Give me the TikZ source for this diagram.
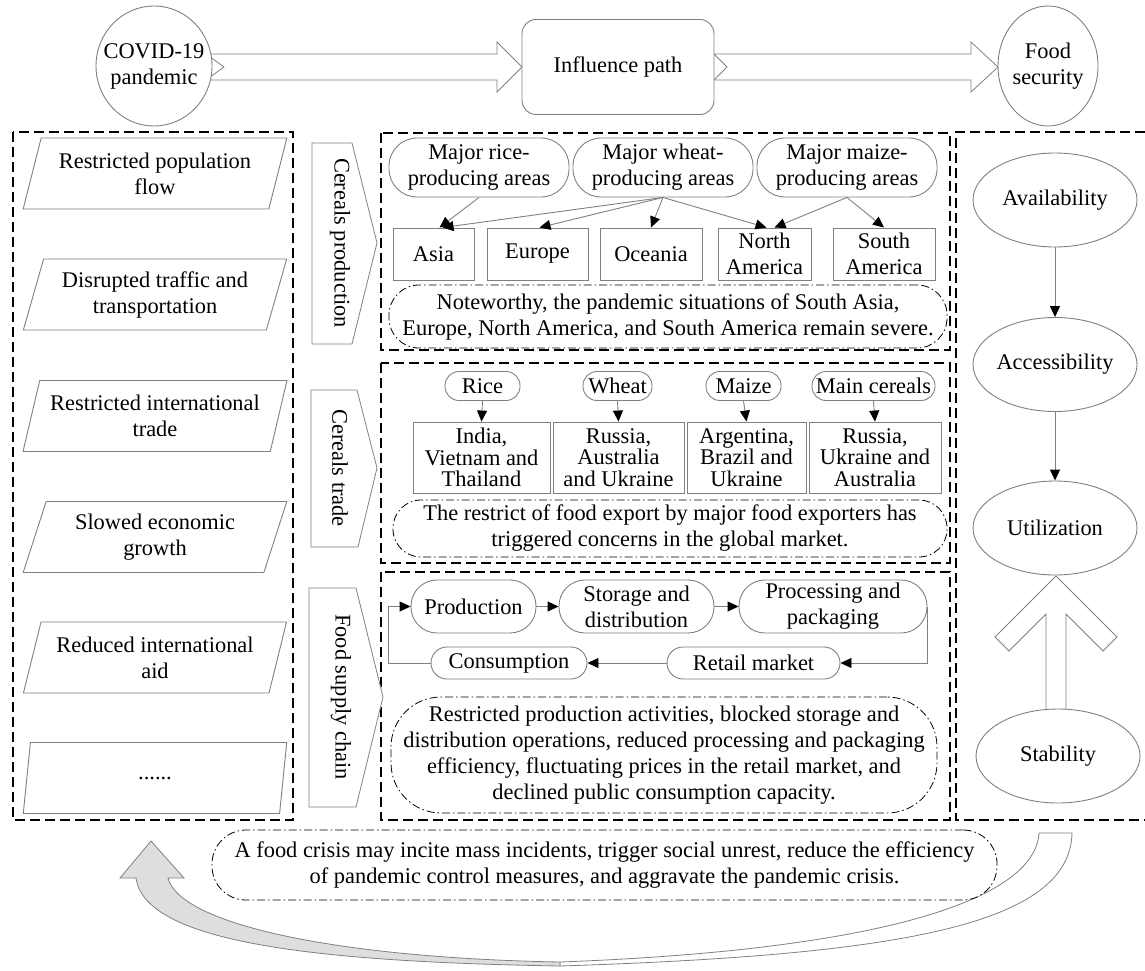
\documentclass[tikz,border=0pt]{standalone}
\usepackage{fontspec}
\setmainfont{Liberation Serif}
\usetikzlibrary{shapes.geometric,arrows.meta,calc}
\begin{document}
\begin{tikzpicture}[x=1pt,y=-1pt,
  every node/.style={font=\fontsize{22.4}{26}\selectfont, inner sep=0pt, align=center},
  gline/.style={draw=black!50, line width=0.9pt},
  gbox/.style={gline, fill=white},
  ell/.style={gbox, ellipse},
  stad/.style={gbox, rectangle, rounded corners=#1},
  stad/.default=26pt,
  rbox/.style={gbox, rectangle},
  para/.style={gbox, trapezium, trapezium left angle=70, trapezium right angle=110, trapezium stretches=true, minimum width=264pt, minimum height=71pt},
  dbox/.style={draw=black, line width=1.5pt, dash pattern=on 10pt off 5pt},
  note/.style={draw=black, line width=0.8pt, dash pattern=on 8pt off 3pt on 1.5pt off 3pt, rounded corners=#1, fill=white},
  note/.default=30pt,
  arr/.style={gline, -{Triangle[length=11pt,width=10pt,color=black]}},
  blockarrow/.style={draw=black!50, line width=0.8pt, fill=white, line join=miter}
]
\useasboundingbox (0,0) rectangle (1145,971);

% ---------- dashed frames ----------
\draw[dbox] (13,132) rectangle (293,820);
\draw[dbox] (381,133) rectangle (950,350);
\draw[dbox] (381,363) rectangle (950,563);
\draw[dbox] (381,572) rectangle (950,820);
\draw[dbox] (1160,132) -- (956,132) -- (956,820) -- (1160,820);

% ---------- top row ----------
\draw[blockarrow] (206,54) -- (497,54) -- (497,42) -- (522,67) -- (497,92) -- (497,80) -- (206,80) -- (224,67) -- cycle;
\draw[blockarrow] (714,54) -- (971,54) -- (971,42) -- (998,67) -- (971,92) -- (971,80) -- (714,80) -- (727,67) -- cycle;
\node[ell, minimum width=116pt, minimum height=120pt] (covid) at (154,66) {};
\node (covidt) at (covid.center) {COVID-19\\pandemic};
\node[gbox, rounded corners=14pt, minimum width=192pt, minimum height=95pt] (infl) at (618,67) {Influence path};
\node[ell, minimum width=100pt, minimum height=120pt] (food) at (1048,66) {};
\node (foodt) at (food.center) {Food\\security};

% ---------- left column ----------
\node[para] (f1) at (155,173.5) {Restricted population\\flow};
\node[para] (f2) at (155,294.5) {Disrupted traffic and\\transportation};
\node[para] (f3) at (155,416) {Restricted international\\trade};
\node[para] (f4) at (155,537) {Slowed economic\\growth};
\node[para] (f5) at (155,657.5) {Reduced international\\aid};
\node[para] (f6) at (155,778) {......};

% ---------- section arrows ----------
\draw[blockarrow] (312,143) -- (352,143) -- (377,243) -- (352,344) -- (312,344) -- cycle;
\node[rotate=-90] (cp) at (340,243) {Cereals production};
\draw[blockarrow] (311,390) -- (357,390) -- (377,468) -- (358,547) -- (311,547) -- cycle;
\node[rotate=-90] (ct) at (340,468) {Cereals trade};
\draw[blockarrow] (309,588) -- (356,588) -- (383,697) -- (356,807) -- (309,807) -- cycle;
\node[rotate=-90] (fsc) at (341,697) {Food supply chain};

% ---------- cereals production ----------
\node[stad=28pt, minimum width=180pt, minimum height=59pt] (rice) at (479,167.5) {Major rice-\\producing areas};
\node[stad=28pt, minimum width=180pt, minimum height=59pt] (wheat) at (663,167.5) {Major wheat-\\producing areas};
\node[stad=28pt, minimum width=180pt, minimum height=59pt] (maize) at (847,167.5) {Major maize-\\producing areas};
\node[rbox, minimum width=81pt, minimum height=52pt] (asia) at (433.5,254) {Asia};
\node[rbox, minimum width=101pt, minimum height=52pt] (europe) at (537.5,254) {Europe};
\node[rbox, minimum width=102pt, minimum height=52pt] (oceania) at (651,254) {Oceania};
\node[rbox, minimum width=93pt, minimum height=52pt] (na) at (764.5,254) {North\\America};
\node[rbox, minimum width=102pt, minimum height=52pt] (sa) at (884,254) {South\\America};
\node[note=30pt, minimum width=558pt, minimum height=63pt] (n1) at (668,316.5) {Noteworthy, the pandemic situations of South Asia,\\Europe, North America, and South America remain severe.};
\draw[arr] (rice.south) -- ($(asia.north)+(6,0)$);
\draw[arr] (wheat.south) -- ($(asia.north)+(9,0)$);
\draw[arr] (wheat.south) -- ($(europe.north)+(2,0)$);
\draw[arr] (wheat.south) -- (oceania.north);
\draw[arr] (wheat.south) -- ($(na.north)+(2,0)$);
\draw[arr] (maize.south) -- ($(na.north)+(10,0)$);
\draw[arr] (maize.south) -- (sa.north);

% ---------- cereals trade ----------
\node[stad=14pt, minimum width=75pt, minimum height=29pt] (trice) at (482.5,386) {Rice};
\node[stad=14pt, minimum width=69pt, minimum height=29pt] (twheat) at (617.5,386) {Wheat};
\node[stad=14pt, minimum width=75pt, minimum height=29pt] (tmaize) at (743.5,386) {Maize};
\node[stad=14pt, minimum width=123pt, minimum height=29pt] (tmain) at (873.5,386) {Main cereals};
\begin{scope}[every node/.append style={font=\fontsize{22.4}{21.5}\selectfont}]
\node[rbox, minimum width=137pt, minimum height=71pt] (india) at (481.5,457.5) {India,\\Vietnam and\\Thailand};
\node[rbox, minimum width=131pt, minimum height=71pt] (rus1) at (618.5,457.5) {Russia,\\Australia\\and Ukraine};
\node[rbox, minimum width=119pt, minimum height=71pt] (arg) at (746.5,457.5) {Argentina,\\Brazil and\\Ukraine};
\node[rbox, minimum width=132pt, minimum height=71pt] (rus2) at (875,457.5) {Russia,\\Ukraine and\\Australia};
\end{scope}
\node[note=28pt, minimum width=554pt, minimum height=57pt] (n2) at (670,528.5) {The restrict of food export by major food exporters has\\triggered concerns in the global market.};
\draw[arr] (trice.south) -- (india.north);
\draw[arr] (twheat.south) -- (rus1.north);
\draw[arr] (tmaize.south) -- (arg.north);
\draw[arr] (tmain.south) -- (rus2.north);

% ---------- food supply chain ----------
\node[stad=26pt, minimum width=125pt, minimum height=53pt] (prod) at (473.5,606.5) {Production};
\node[stad=26pt, minimum width=155pt, minimum height=53pt] (stor) at (636.5,606.5) {Storage and\\distribution};
\node[stad=26pt, minimum width=188pt, minimum height=53pt] (proc) at (833,606.5) {Processing and\\packaging};
\node[stad=16pt, minimum width=156pt, minimum height=32pt] (cons) at (509,663) {Consumption};
\node[stad=16pt, minimum width=173pt, minimum height=32pt] (retail) at (753.5,663) {Retail market};
\node[note=50pt, minimum width=546pt, minimum height=116pt] (n3) at (664,755) {Restricted production activities, blocked storage and\\distribution operations, reduced processing and packaging\\efficiency, fluctuating prices in the retail market, and\\declined public consumption capacity.};
\draw[arr] (prod) -- (stor);
\draw[arr] (stor) -- (proc);
\draw[arr] (proc.east) |- (retail.east);
\draw[arr] (retail) -- (cons);
\draw[arr] (cons.west) -- ++(-42,0) |- (prod.west);

% ---------- food security dimensions ----------
\draw[blockarrow] (1046,712) -- (1046,614) -- (1009,651) -- (995,637) -- (1056,576) -- (1117,637) -- (1103,651) -- (1066,614) -- (1066,712) -- cycle;
\node[ell, minimum width=164pt, minimum height=94pt] (avail) at (1055,200) {};
\node (availt) at (avail.center) {Availability};
\node[ell, minimum width=164pt, minimum height=94pt] (access) at (1055,364.5) {};
\node (accesst) at (access.center) {Accessibility};
\node[ell, minimum width=164pt, minimum height=94pt] (util) at (1055,528) {};
\node (utilt) at (util.center) {Utilization};
\node[ell, minimum width=164pt, minimum height=94pt] (stab) at (1058,756) {};
\node (stabt) at (stab.center) {Stability};
\draw[arr] (avail) -- (access);
\draw[arr] (access) -- (util);

% ---------- feedback ----------
\draw[blockarrow] (1039,833) -- (1072,833) .. controls (1070,925) and (900,955) .. (560,966) -- (560,962) .. controls (880,950) and (1035,900) .. (1039,833) -- cycle;
\draw[blockarrow, fill=black!13] (560,966) .. controls (330,962) and (145,945) .. (136,878) -- (120,878) -- (151,841) -- (184,878) -- (168,878) .. controls (180,925) and (340,958) .. (560,962) -- cycle;
\node[note=34pt, minimum width=785pt, minimum height=70pt] (n4) at (604.5,865) {A food crisis may incite mass incidents, trigger social unrest, reduce the efficiency\\of pandemic control measures, and aggravate the pandemic crisis.};
\end{tikzpicture}
\end{document}
